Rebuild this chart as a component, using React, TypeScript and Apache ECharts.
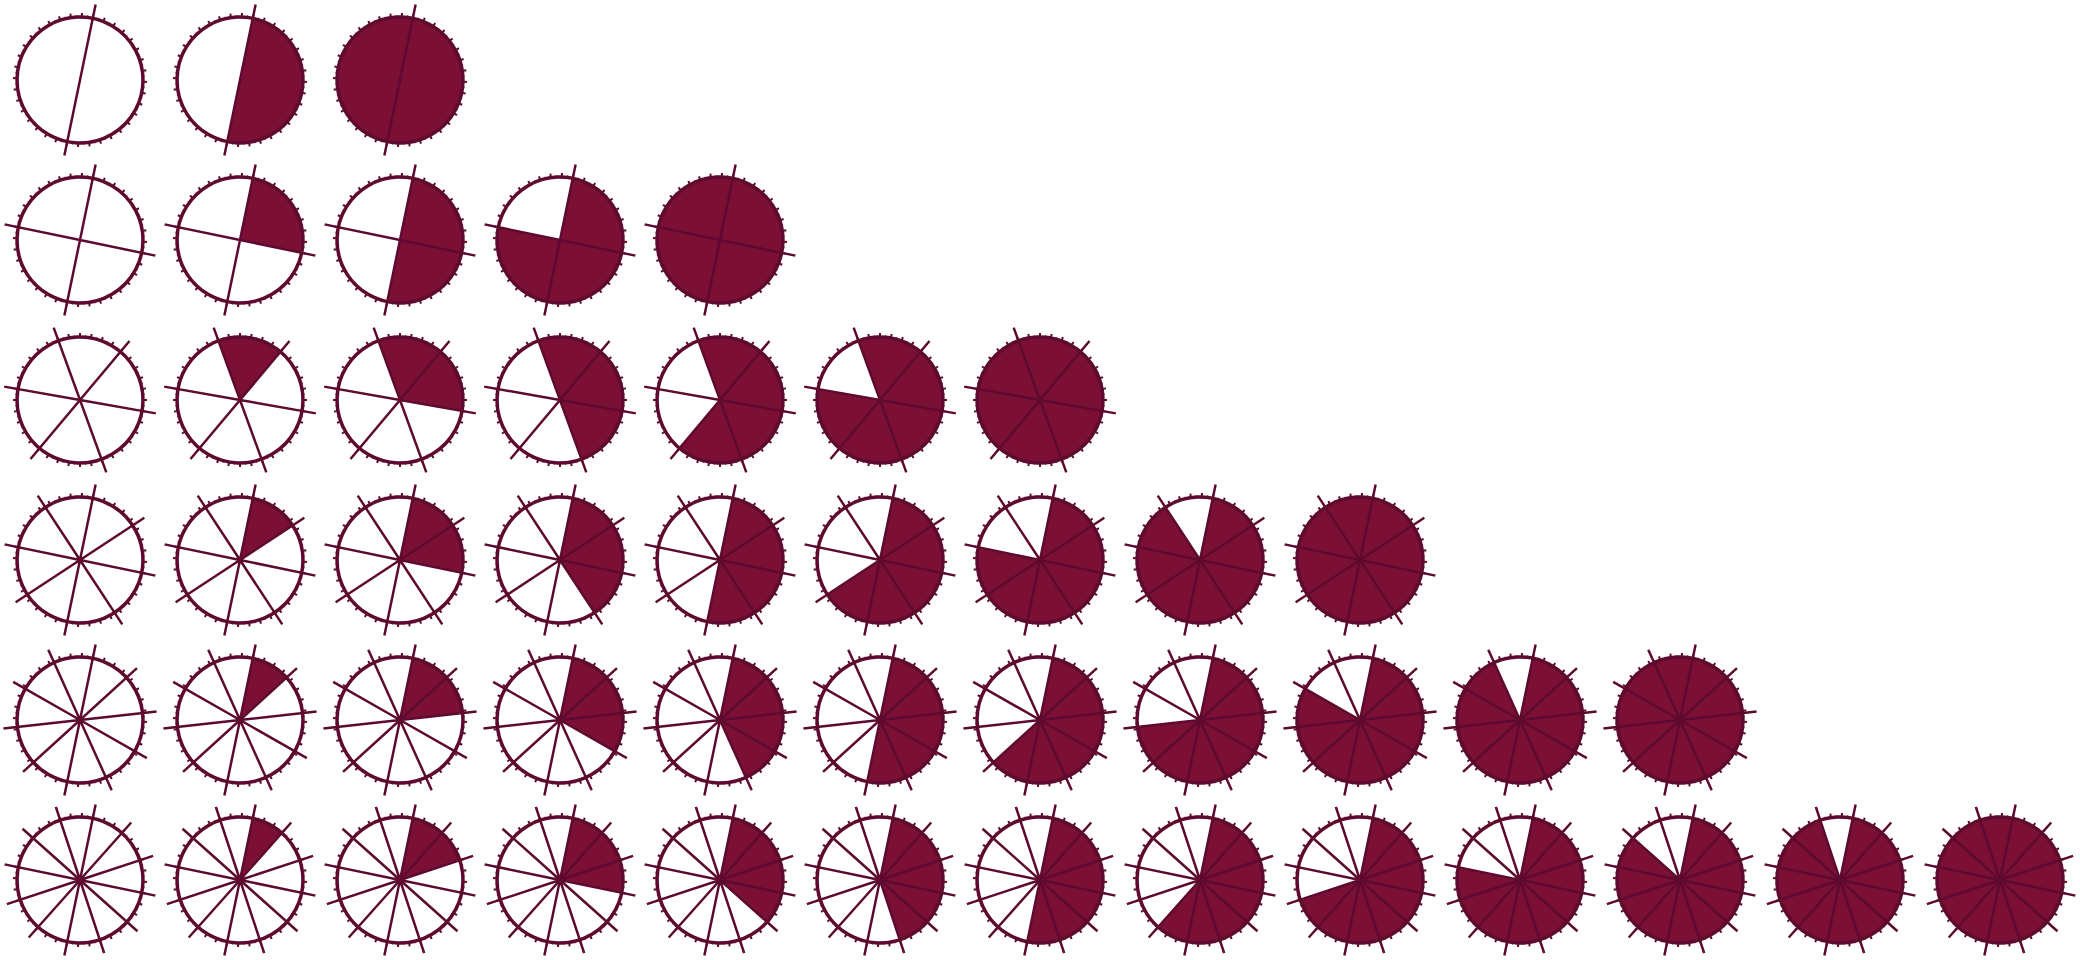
import React, { useEffect, useRef } from "react";
import * as echarts from "echarts";

// Denominators of each row and the numerators shown in each row
const denominators = [2, 4, 6, 8, 10, 12];
const numerators = [
  [0, 1, 2],
  [0, 1, 2, 3, 4],
  [0, 1, 2, 3, 4, 5, 6],
  [0, 1, 2, 3, 4, 5, 6, 7, 8],
  [0, 1, 2, 3, 4, 5, 6, 7, 8, 9, 10],
  [0, 1, 2, 3, 4, 5, 6, 7, 8, 9, 10, 11, 12],
];
// Where the first slice of each row begins, degrees clockwise from 12 o'clock
const rowFirstSpoke = [11.7, 11.7, -20, 11.7, 11.7, 11.7];

const FILL = "#7b1034";
const LINE = "#5e0a2f";

export default function App() {
  const ref = useRef<HTMLDivElement>(null);
  useEffect(() => {
    if (!ref.current) return;
    const chart = echarts.init(ref.current, null, { renderer: "svg" });
    const polar: any[] = [];
    const angleAxis: any[] = [];
    const radiusAxis: any[] = [];
    const series: any[] = [];
    const r = 63;
    const spoke = 77;
    denominators.forEach((n, row) => {
      const startAngle = 90 - rowFirstSpoke[row];
      numerators[row].forEach((k, col) => {
        const cx = 80 + 160 * col;
        const cy = 80 + 160 * row;
        // spokes polar
        const pa = polar.length;
        polar.push({ center: [cx, cy], radius: [0, spoke] });
        angleAxis.push({
          polarIndex: pa,
          type: "value",
          min: 0,
          max: 360,
          interval: 360 / n,
          startAngle,
          clockwise: true,
          z: 10,
          axisLine: { show: false },
          axisTick: { show: false },
          axisLabel: { show: false },
          splitLine: { show: true, lineStyle: { color: LINE, width: 2.5 } },
        });
        radiusAxis.push({ polarIndex: pa, show: false, min: 0, max: 1, splitLine: { show: false } });
        // outline polar
        const pb = polar.length;
        polar.push({ center: [cx, cy], radius: [0, r] });
        angleAxis.push({
          polarIndex: pb,
          type: "value",
          min: 0,
          max: 360,
          interval: 10,
          startAngle,
          clockwise: true,
          z: 10,
          axisLine: { show: true, lineStyle: { color: LINE, width: 3.5 } },
          axisTick: { show: true, length: 4, lineStyle: { color: LINE, width: 2 } },
          minorTick: { show: true, splitNumber: 2, length: 2, lineStyle: { color: LINE, width: 1 } },
          axisLabel: { show: false },
          splitLine: { show: false },
        });
        radiusAxis.push({ polarIndex: pb, show: false, min: 0, max: 1, splitLine: { show: false } });
        const data = [];
        for (let i = 0; i < n; i++) {
          data.push({
            value: 1,
            name: `${i + 1}/${n}`,
            itemStyle: { color: i < k ? FILL : "#ffffff" },
          });
        }
        series.push({
          type: "pie",
          center: [cx, cy],
          radius: [0, r],
          startAngle,
          clockwise: true,
          silent: true,
          label: { show: false },
          labelLine: { show: false },
          itemStyle: { borderWidth: 0 },
          data,
          z: 2,
        });
      });
    });
    chart.setOption({
      animation: false,
      backgroundColor: "#ffffff",
      polar,
      angleAxis,
      radiusAxis,
      series,
    });
    return () => chart.dispose();
  }, []);
  return (
    <div
      ref={ref}
      style={{ position: "fixed", left: 0, top: 0, width: 2080, height: 960 }}
    />
  );
}
